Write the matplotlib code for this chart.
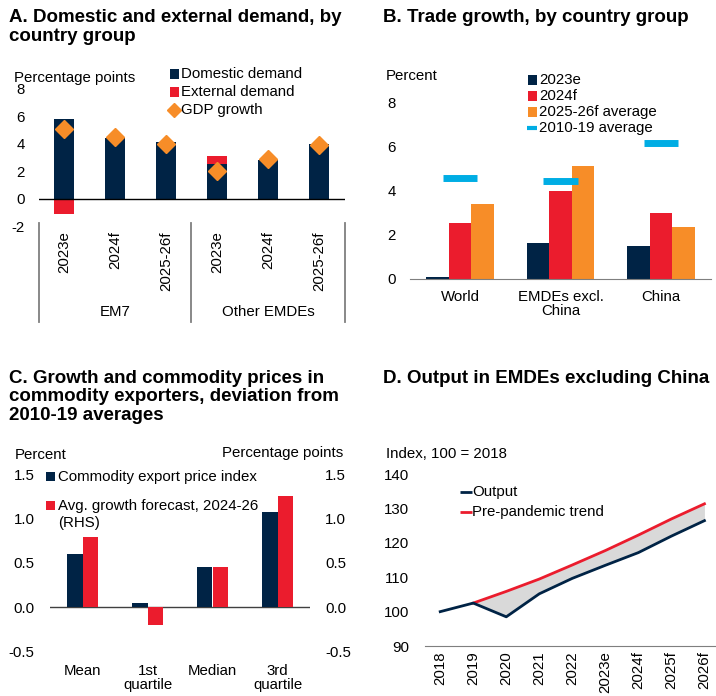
import matplotlib
matplotlib.use("Agg")
import matplotlib.pyplot as plt
from matplotlib.patches import Rectangle
from matplotlib.lines import Line2D
from matplotlib.transforms import blended_transform_factory
import numpy as np

plt.rcParams['font.family'] = ['Liberation Sans', 'DejaVu Sans']
plt.rcParams['axes.unicode_minus'] = False

# ---------------- data ----------------
a_categories = ['2023e', '2024f', '2025-26f', '2023e', '2024f', '2025-26f']
a_groups = ['EM7', 'Other EMDEs']
a_domestic = [5.8, 4.4, 4.1, 2.5, 2.85, 3.95]
a_external = [-1.1, -0.05, -0.05, 0.6, 0.0, -0.1]
a_gdp = [5.05, 4.5, 4.0, 2.0, 2.9, 3.9]

b_groups = ['World', 'EMDEs excl.\nChina', 'China']
b_2023e = [0.1, 1.65, 1.5]
b_2024f = [2.55, 4.0, 3.0]
b_2025_26f = [3.4, 5.15, 2.35]
b_avg_2010_19 = [4.6, 4.45, 6.15]

c_categories = ['Mean', '1st\nquartile', 'Median', '3rd\nquartile']
c_price_index = [0.6, 0.05, 0.45, 1.08]
c_growth_fcst = [0.79, -0.2, 0.46, 1.26]

d_years = ['2018', '2019', '2020', '2021', '2022', '2023e', '2024f', '2025f', '2026f']
d_output = [100.0, 102.5, 98.5, 105.2, 109.7, 113.5, 117.2, 122.0, 126.5]
d_trend = [np.nan, 102.5, 105.9, 109.5, 113.6, 117.8, 122.3, 127.0, 131.4]

# ---------------- style ----------------
NAVY = '#002345'
RED = '#EB1C2D'
ORANGE = '#F78D28'
CYAN = '#00ADE4'
FILL = '#D9D9D9'
AXGREY = '#7F7F7F'
FS = 10.8
TFS = 13.5

W, H = 716, 696
fig = plt.figure(figsize=(W / 100, H / 100), dpi=100)


def ax_px(left, top, right, bottom):
    return fig.add_axes([left / W, 1 - bottom / H, (right - left) / W, (bottom - top) / H])


def ftext(x, y, s, **kw):
    kw.setdefault('fontsize', FS)
    return fig.text(x / W, 1 - y / H, s, **kw)


def fsquare(xc, yc, size, color):
    fig.add_artist(Rectangle(((xc - size / 2) / W, 1 - (yc + size / 2) / H), size / W, size / H,
                             transform=fig.transFigure, color=color, lw=0))


def fline(x0, x1, y, color, lw):
    fig.add_artist(Line2D([x0 / W, x1 / W], [1 - y / H, 1 - y / H], transform=fig.transFigure,
                          color=color, lw=lw, solid_capstyle='butt'))


def fmarker(x, y, marker, color, ms):
    fig.add_artist(Line2D([x / W], [1 - y / H], transform=fig.transFigure, marker=marker,
                          color=color, ms=ms, ls='none'))


def clean(ax):
    for s in ax.spines.values():
        s.set_visible(False)
    ax.tick_params(length=0, labelsize=FS)


# ---------------- titles ----------------
ftext(9, 9, 'A. Domestic and external demand, by\ncountry group', fontsize=TFS,
      fontweight='bold', va='top', linespacing=1.13)
ftext(383, 9, 'B. Trade growth, by country group', fontsize=TFS, fontweight='bold', va='top')
ftext(9, 370, 'C. Growth and commodity prices in\ncommodity exporters, deviation from\n2010-19 averages',
      fontsize=TFS, fontweight='bold', va='top', linespacing=1.1)
ftext(383, 370, 'D. Output in EMDEs excluding China', fontsize=TFS, fontweight='bold', va='top')

# ---------------- panel A ----------------
axA = ax_px(39, 89, 345, 226)
clean(axA)
xa = np.arange(len(a_categories))
wa = 0.39
dom = np.array(a_domestic)
ext = np.array(a_external)
axA.bar(xa, dom, wa, color=NAVY, zorder=2)
axA.bar(xa, ext, wa, bottom=np.where(ext >= 0, dom, 0), color=RED, zorder=2)
axA.plot(xa, a_gdp, ls='none', marker='D', color=ORANGE, ms=9, zorder=3)
axA.axhline(0, color='black', lw=1, zorder=2.5)
axA.set_ylim(-2, 8)
axA.set_xlim(-0.49, 5.51)
axA.set_yticks([-2, 0, 2, 4, 6, 8])
axA.tick_params(axis='y', pad=10)
axA.set_xticks(xa)
axA.set_xticklabels(a_categories, rotation=90, va='top')
axA.tick_params(axis='x', pad=4)
trA = blended_transform_factory(axA.transData, axA.transAxes)
for xs in [-0.49, 2.5, 5.51]:
    axA.plot([xs, xs], [0.02, -0.70], transform=trA, clip_on=False, color=AXGREY, lw=1.3)
for gx, g in zip([1, 4], a_groups):
    axA.text(gx, -0.626, g, transform=trA, ha='center', va='center', fontsize=FS)

ftext(14, 78, 'Percentage points', va='center')
fsquare(174, 74, 9, NAVY)
ftext(181, 74, 'Domestic demand', va='center')
fsquare(174, 92, 9, RED)
ftext(181, 92, 'External demand', va='center')
fmarker(174, 110, 'D', ORANGE, 7)
ftext(181, 110, 'GDP growth', va='center')

# ---------------- panel B ----------------
axB = ax_px(410, 102.7, 711, 279)
clean(axB)
axB.spines['bottom'].set_visible(True)
axB.spines['bottom'].set_color(AXGREY)
xb = np.arange(len(b_groups))
wb = 0.224
axB.bar(xb - wb, b_2023e, wb, color=NAVY, zorder=2)
axB.bar(xb, b_2024f, wb, color=RED, zorder=2)
axB.bar(xb + wb, b_2025_26f, wb, color=ORANGE, zorder=2)
axB.hlines(b_avg_2010_19, xb - 0.17, xb + 0.17, color=CYAN, lw=5, zorder=3)
axB.set_ylim(0, 8)
axB.set_xlim(-0.5, 2.5)
axB.set_yticks([0, 2, 4, 6, 8])
axB.tick_params(axis='y', pad=10)
axB.set_xticks(xb)
axB.set_xticklabels(b_groups, linespacing=1.0)
axB.tick_params(axis='x', pad=8)

ftext(386, 76, 'Percent', va='center')
fsquare(532, 80, 9, NAVY)
ftext(539, 80, '2023e', va='center')
fsquare(532, 96, 9, RED)
ftext(539, 96, '2024f', va='center')
fsquare(532, 112, 9, ORANGE)
ftext(539, 112, '2025-26f average', va='center')
fline(527, 537, 128, CYAN, 3)
ftext(539, 128, '2010-19 average', va='center')

# ---------------- panel C ----------------
axC = ax_px(50, 474.3, 310, 651.7)
clean(axC)
axC2 = axC.twinx()
clean(axC2)
xc = np.arange(len(c_categories))
wc = 0.24
axC.bar(xc - wc / 2, c_price_index, wc, color=NAVY, zorder=2)
axC2.bar(xc + wc / 2, c_growth_fcst, wc, color=RED, zorder=2)
axC.axhline(0, color='#404040', lw=1, zorder=1)
for a in (axC, axC2):
    a.set_ylim(-0.5, 1.5)
    a.set_yticks([-0.5, 0.0, 0.5, 1.0, 1.5])
    a.set_yticklabels(['-0.5', '0.0', '0.5', '1.0', '1.5'])
    a.tick_params(axis='y', pad=11)
axC.set_xlim(-0.5, 3.5)
axC.set_xticks(xc)
axC.set_xticklabels(c_categories, linespacing=1.0)
axC.tick_params(axis='x', pad=9)

ftext(15, 455, 'Percent', va='center')
ftext(343, 453, 'Percentage points', va='center', ha='right')
fsquare(51, 476.5, 9, NAVY)
ftext(58, 476.5, 'Commodity export price index', va='center')
fsquare(51, 505, 9, RED)
ftext(58, 506, 'Avg. growth forecast, 2024-26', va='center')
ftext(58, 523, '(RHS)', va='center')

# ---------------- panel D ----------------
axD = ax_px(424.7, 474.3, 716, 646)
clean(axD)
axD.spines['bottom'].set_visible(True)
axD.spines['bottom'].set_color(AXGREY)
xd = np.arange(len(d_years))
out = np.array(d_output)
trd = np.array(d_trend)
axD.fill_between(xd[1:], out[1:], trd[1:], color=FILL, lw=0, zorder=1)
axD.plot(xd, out, color=NAVY, lw=2, zorder=3)
axD.plot(xd, trd, color=RED, lw=2, zorder=2)
axD.set_ylim(90, 140)
axD.set_xlim(-0.47, 8.35)
axD.set_yticks([90, 100, 110, 120, 130, 140])
axD.tick_params(axis='y', pad=11)
axD.set_xticks(xd)
axD.set_xticklabels(d_years, rotation=90, va='top')
axD.tick_params(axis='x', pad=4)

ftext(386, 454, 'Index, 100 = 2018', va='center')
fline(460, 472, 491.7, NAVY, 2)
ftext(472, 491.7, 'Output', va='center')
fline(460, 472, 512.3, RED, 2)
ftext(472, 512.3, 'Pre-pandemic trend', va='center')

fig.savefig('out.png', dpi=100)
